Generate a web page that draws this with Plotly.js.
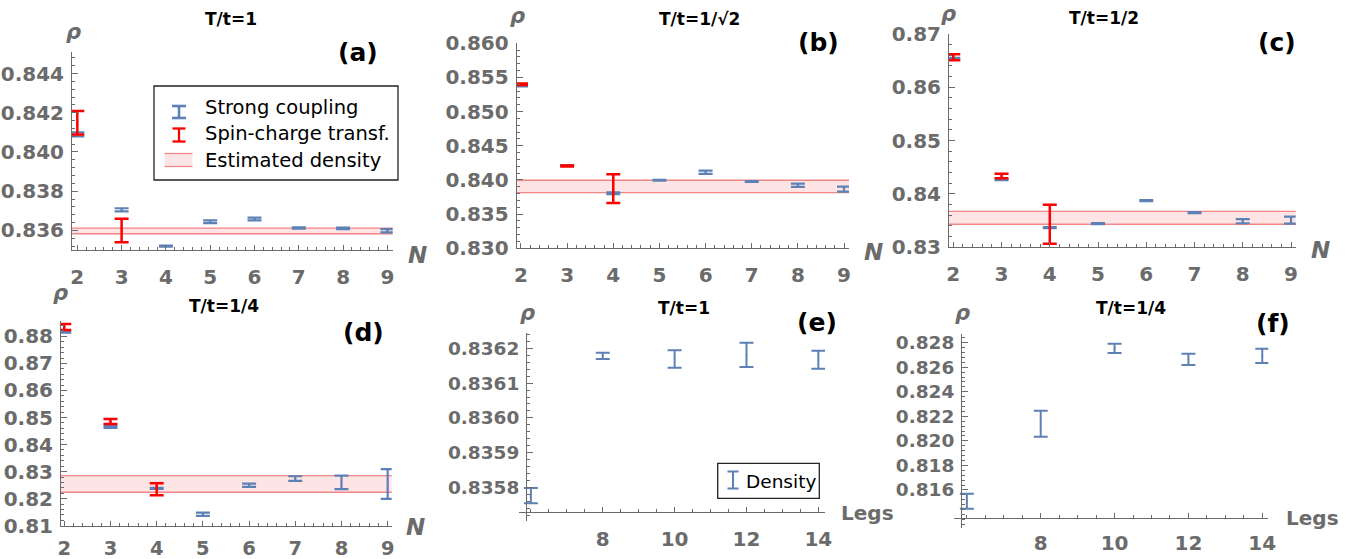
<!DOCTYPE html>
<html>
<head>
<meta charset="utf-8">
<script src="https://cdn.plot.ly/plotly-3.0.1.min.js"></script>
<style>html,body{margin:0;padding:0;background:#fff;}#plot{width:1364px;height:559px;}</style>
</head>
<body>
<div id="plot"></div>
<script>
// ---------------- DATA ----------------
const N = [2, 3, 4, 5, 6, 7, 8, 9];
const N_sct = [2, 3, 4];
const legs = [6, 8, 10, 12, 14];

// (a) T/t=1
const a_sc_val = [0.8409, 0.83705, 0.8352, 0.83644, 0.83658, 0.83612, 0.8361, 0.83598];
const a_sc_err = [0.0001, 0.00008, 0.00003, 0.00007, 0.00007, 0.00003, 0.00004, 0.00008];
const a_sct_N = [2, 3];
const a_sct_val = [0.84149, 0.8360];
const a_sct_err = [0.0006, 0.0006];
const a_band = [0.83583, 0.83612];

// (b) T/t=1/sqrt2
const b_sc_val = [0.85375, 0.84215, 0.83805, 0.83996, 0.84112, 0.83977, 0.83922, 0.83866];
const b_sc_err = [0.00005, 0.00003, 0.00012, 0.00005, 0.00024, 0.00005, 0.00024, 0.00036];
const b_sct_val = [0.8540, 0.84205, 0.83873];
const b_sct_err = [0.0001, 0.00007, 0.0021];
const b_band = [0.83815, 0.83996];

// (c) T/t=1/2
const c_sc_val = [0.86544, 0.84265, 0.83368, 0.83443, 0.83874, 0.8365, 0.83489, 0.83509];
const c_sc_err = [0.0001, 0.00005, 0.0001, 0.0001, 0.0001, 0.0001, 0.00038, 0.00066];
const c_sct_val = [0.86563, 0.84337, 0.83434];
const c_sct_err = [0.00057, 0.00044, 0.00366];
const c_band = [0.83432, 0.83675];

// (d) T/t=1/4
const d_sc_val = [0.8816, 0.8465, 0.8238, 0.8142, 0.82493, 0.82741, 0.82604, 0.82543];
const d_sc_err = [0.0002, 0.0003, 0.0002, 0.0006, 0.0006, 0.00087, 0.0025, 0.0055];
const d_sct_val = [0.8835, 0.84855, 0.8235];
const d_sct_err = [0.0011, 0.0009, 0.0022];
const d_band = [0.82236, 0.8285];

// (e) T/t=1 vs legs
const e_val = [0.835777, 0.836178, 0.836169, 0.836181, 0.836167];
const e_err = [0.000022, 0.000009, 0.000025, 0.000035, 0.000026];

// (f) T/t=1/4 vs legs
const f_val = [0.81509, 0.8214, 0.82754, 0.82664, 0.82693];
const f_err = [0.00061, 0.00106, 0.00038, 0.00046, 0.00058];

// tick labels
const legTicks = [8, 10, 12, 14];
const e_yticks = [0.8358, 0.8359, 0.8360, 0.8361, 0.8362];
const f_yticks = [0.816, 0.818, 0.820, 0.822, 0.824, 0.826, 0.828];

const titles = ['T/t=1', 'T/t=1/√2', 'T/t=1/2', 'T/t=1/4', 'T/t=1', 'T/t=1/4'];
const panelLabels = ['(a)', '(b)', '(c)', '(d)', '(e)', '(f)'];
const legendA = ['Strong coupling', 'Spin-charge transf.', 'Estimated density'];
const legendE = ['Density'];

// ---------------- STYLE ----------------
const W = 1364, H = 559;
const fx = p => p / W;
const fy = p => 1 - p / H;
const BLUE = '#5E81B5', RED = '#FF0000';
const AX = '#6b6b6b';
const FONT = 'DejaVu Sans';
const BANDLINE = '#F28585', BANDFILL = 'rgba(250,90,90,0.16)';

function ebTrace(x, y, err, color, xa, ya, thick) {
  return {
    type: 'scatter', mode: 'markers', x: x, y: y, xaxis: xa, yaxis: ya,
    marker: {size: 2, color: color, opacity: 0.6},
    error_y: {type: 'data', array: err, visible: true, color: color, thickness: thick, width: 7},
    showlegend: false, hoverinfo: 'skip'
  };
}

const traces = [
  ebTrace(N, a_sc_val, a_sc_err, BLUE, 'x', 'y', 2.2),
  ebTrace(a_sct_N, a_sct_val, a_sct_err, RED, 'x', 'y', 2.5),
  ebTrace(N, b_sc_val, b_sc_err, BLUE, 'x2', 'y2', 2.2),
  ebTrace(N_sct, b_sct_val, b_sct_err, RED, 'x2', 'y2', 2.5),
  ebTrace(N, c_sc_val, c_sc_err, BLUE, 'x3', 'y3', 2.2),
  ebTrace(N_sct, c_sct_val, c_sct_err, RED, 'x3', 'y3', 2.5),
  ebTrace(N, d_sc_val, d_sc_err, BLUE, 'x4', 'y4', 2.2),
  ebTrace(N_sct, d_sct_val, d_sct_err, RED, 'x4', 'y4', 2.5),
  ebTrace(legs, e_val, e_err, BLUE, 'x5', 'y5', 2),
  ebTrace(legs, f_val, f_err, BLUE, 'x6', 'y6', 2)
];

const tickFont = {family: FONT, size: 20, color: AX, weight: 'bold'};
function xAxis(d0, d1, r0, r1, anchor, extra) {
  return Object.assign({
    domain: [fx(d0), fx(d1)], range: [r0, r1], anchor: anchor,
    showline: true, linecolor: AX, linewidth: 1, showgrid: false, zeroline: false,
    ticks: 'inside', ticklen: 5, tickcolor: AX, tickwidth: 1,
    tickfont: tickFont, ticklabelstandoff: 9,
    tickvals: N, fixedrange: true,
    minor: {ticks: 'inside', ticklen: 3, dtick: 0.2, tick0: 2, tickcolor: AX, showgrid: false}
  }, extra || {});
}
function yAxis(d0, d1, r0, r1, anchor, dtick, tick0, fmt, mdt, extra) {
  return Object.assign({
    domain: [fy(d0), fy(d1)], range: [r0, r1], anchor: anchor,
    showline: true, linecolor: AX, linewidth: 1, showgrid: false, zeroline: false,
    ticks: 'inside', ticklen: 6, tickcolor: AX, tickwidth: 1,
    tickfont: tickFont, ticklabelstandoff: 3,
    dtick: dtick, tick0: tick0, tickformat: fmt, fixedrange: true,
    minor: {ticks: 'inside', ticklen: 3, dtick: mdt, tick0: tick0, tickcolor: AX, showgrid: false}
  }, extra || {});
}

const layout = {
  width: W, height: H, margin: {l: 0, r: 0, t: 0, b: 0},
  paper_bgcolor: '#fff', plot_bgcolor: 'rgba(0,0,0,0)', showlegend: false,
  font: {family: FONT},
  xaxis: xAxis(72, 392.7, 1.88, 9.12, 'y'),
  yaxis: yAxis(250, 52, 0.835, 0.8451, 'x', 0.002, 0.836, '.3f', 0.0004),
  xaxis2: xAxis(516.7, 849, 1.907, 9.108, 'y2'),
  yaxis2: yAxis(248.3, 43.3, 0.830, 0.860, 'x2', 0.005, 0.830, '.3f', 0.001),
  xaxis3: xAxis(949, 1295.7, 1.911, 9.097, 'y3'),
  yaxis3: yAxis(247.3, 34, 0.83, 0.87, 'x3', 0.01, 0.83, '.2f', 0.002),
  xaxis4: xAxis(61, 391.7, 1.929, 9.087, 'y4', {ticklabelstandoff: 5,
    tickfont: {family: FONT, size: 19.5, color: AX, weight: 'bold'}}),
  yaxis4: yAxis(525.7, 320.7, 0.81, 0.8858, 'x4', 0.01, 0.81, '.2f', 0.002),
  xaxis5: xAxis(519, 825, 5.669, 14.185, 'free', {position: fy(512), tickvals: legTicks,
    minor: {ticks: 'inside', ticklen: 3, dtick: 0.5, tick0: 6, tickcolor: AX, showgrid: false}}),
  yaxis5: yAxis(521, 333.3, 0.835704, 0.836243, 'free', 0.0001, 0.8358, '.4f', 0.00002,
    {position: fx(526), tickvals: e_yticks, tickfont: {family: FONT, size: 18.5, color: AX, weight: 'bold'}}),
  xaxis6: xAxis(954.3, 1268.3, 5.66, 14.163, 'free', {position: fy(518.3), tickvals: legTicks,
    ticklabelstandoff: 7,
    minor: {ticks: 'inside', ticklen: 3, dtick: 0.5, tick0: 6, tickcolor: AX, showgrid: false}}),
  yaxis6: yAxis(528.3, 334.3, 0.81288, 0.82868, 'free', 0.002, 0.816, '.3f', 0.0004,
    {position: fx(961), tickvals: f_yticks, tickfont: {family: FONT, size: 18.5, color: AX, weight: 'bold'}}),
  shapes: [],
  annotations: []
};

// bands
function band(xr, yr, b) {
  layout.shapes.push({type: 'rect', xref: xr + ' domain', yref: yr, x0: 0, x1: 1, y0: b[0], y1: b[1],
    fillcolor: BANDFILL, line: {width: 0}, layer: 'below'});
  [b[0], b[1]].forEach(v => layout.shapes.push({type: 'line', xref: xr + ' domain', yref: yr,
    x0: 0, x1: 1, y0: v, y1: v, line: {color: BANDLINE, width: 1.3}, layer: 'below'}));
}
band('x', 'y', a_band);
band('x2', 'y2', b_band);
band('x3', 'y3', c_band);
band('x4', 'y4', d_band);

// annotations
function ann(text, px, py, size, color, xanchor) {
  layout.annotations.push({text: text, xref: 'paper', yref: 'paper', x: fx(px), y: fy(py),
    xanchor: xanchor || 'center', yanchor: 'middle', showarrow: false,
    font: {family: FONT, size: size, color: color}});
}
const titlePos = [[231, 19], [699, 19], [1104, 18], [224, 306], [684, 308], [1131, 308]];
const labelPos = [[358, 53], [818, 43], [1277, 43], [363, 332], [817, 322], [1273, 323]];
const rhoPos = [[73, 32], [517, 16], [948, 14], [60, 293], [527, 313], [962, 313]];
titles.forEach((t, i) => ann('<b>' + t + '</b>', titlePos[i][0], titlePos[i][1], 17, '#000'));
panelLabels.forEach((t, i) => ann('<b>' + t + '</b>', labelPos[i][0], labelPos[i][1], 25, '#000'));
rhoPos.forEach(p => ann('<b><i>ρ</i></b>', p[0], p[1], 21, AX));
[[417, 255], [873, 252], [1320, 250], [415, 527]].forEach(p => ann('<b><i>N</i></b>', p[0], p[1], 23, AX));
[[867, 513], [1312, 518]].forEach(p => ann('<b>Legs</b>', p[0], p[1], 20, AX));

// legend (a)
layout.shapes.push({type: 'rect', xref: 'paper', yref: 'paper', x0: fx(154), x1: fx(398), y0: fy(86), y1: fy(180),
  line: {color: '#222', width: 1.3}, fillcolor: '#fff'});
function icon(cx, y0, y1, hw, color, w) {
  layout.shapes.push({type: 'line', xref: 'paper', yref: 'paper', x0: fx(cx), x1: fx(cx), y0: fy(y0), y1: fy(y1), line: {color: color, width: w}});
  [y0, y1].forEach(y => layout.shapes.push({type: 'line', xref: 'paper', yref: 'paper', x0: fx(cx - hw), x1: fx(cx + hw), y0: fy(y), y1: fy(y), line: {color: color, width: w}}));
}
icon(179, 106, 118, 7, BLUE, 2.6);
icon(179, 128.5, 141.5, 6.5, RED, 2.3);
layout.shapes.push({type: 'rect', xref: 'paper', yref: 'paper', x0: fx(164.5), x1: fx(192.5), y0: fy(153.5), y1: fy(166.5), fillcolor: BANDFILL, line: {width: 0}});
[153.5, 166.5].forEach(y => layout.shapes.push({type: 'line', xref: 'paper', yref: 'paper', x0: fx(164.5), x1: fx(192.5), y0: fy(y), y1: fy(y), line: {color: BANDLINE, width: 1.3}}));
ann(legendA[0], 203, 107, 19.5, '#000', 'left');
ann(legendA[1], 203, 133, 19.5, '#000', 'left');
ann(legendA[2], 203, 160, 19.5, '#000', 'left');

// legend (e)
layout.shapes.push({type: 'rect', xref: 'paper', yref: 'paper', x0: fx(717.7), x1: fx(819.3), y0: fy(463.3), y1: fy(498.3),
  line: {color: '#222', width: 1.3}, fillcolor: '#fff'});
icon(733, 471.5, 488.5, 5.5, BLUE, 2);
ann(legendE[0], 744, 481, 18.5, '#000', 'left');

Plotly.newPlot('plot', traces, layout, {displayModeBar: false, staticPlot: true});
</script>
</body>
</html>
